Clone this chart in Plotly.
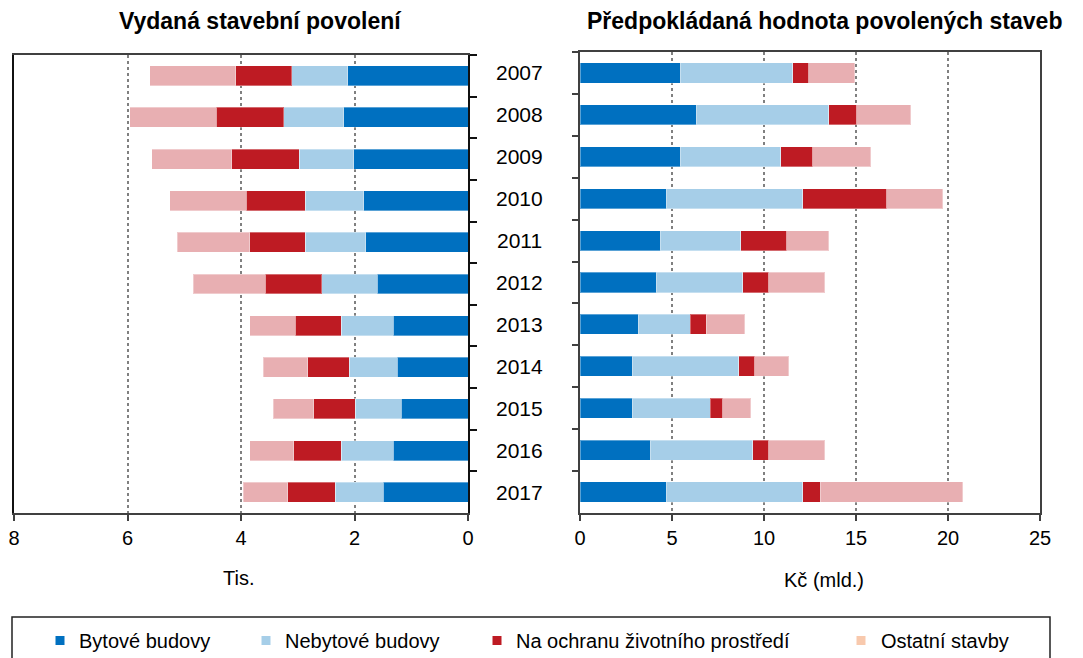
import plotly.graph_objects as go

years = ['2007', '2008', '2009', '2010', '2011', '2012', '2013', '2014', '2015', '2016', '2017']
series_names = ['Bytové budovy', 'Nebytové budovy', 'Na ochranu životního prostředí', 'Ostatní stavby']

# Vydaná stavební povolení (tis.)
byt_l = [2.12, 2.19, 2.01, 1.84, 1.80, 1.60, 1.32, 1.25, 1.18, 1.32, 1.49]
neb_l = [0.99, 1.06, 0.96, 1.03, 1.07, 0.98, 0.91, 0.84, 0.81, 0.91, 0.85]
och_l = [0.98, 1.19, 1.19, 1.04, 0.98, 0.99, 0.81, 0.73, 0.73, 0.84, 0.84]
ost_l = [1.52, 1.52, 1.41, 1.35, 1.27, 1.27, 0.81, 0.79, 0.71, 0.78, 0.78]

# Předpokládaná hodnota povolených staveb (mld. Kč)
byt_r = [5.45, 6.33, 5.45, 4.69, 4.36, 4.15, 3.16, 2.84, 2.84, 3.82, 4.69]
neb_r = [6.12, 7.20, 5.46, 7.42, 4.37, 4.69, 2.84, 5.78, 4.25, 5.56, 7.42]
och_r = [0.85, 1.51, 1.73, 4.55, 2.51, 1.42, 0.87, 0.87, 0.66, 0.88, 0.96]
ost_r = [2.51, 2.94, 3.16, 3.05, 2.27, 3.05, 2.08, 1.86, 1.52, 3.05, 7.73]

x_ticks_l = [0, 2, 4, 6, 8]
x_ticks_r = [0, 5, 10, 15, 20, 25]

bar_colors = ['#0070C0', '#A6CEE8', '#BE1B23', '#E8AFB2']
legend_colors = ['#0070C0', '#A6CEE8', '#BE1B23', '#F8C9AD']

W, H = 1083, 658
FONT = 'Liberation Sans, Arial, sans-serif'
OFF = 8  # page body margin offset

def px(x):
    return (x - OFF) / W

def py(y):
    return 1 - (y - OFF) / H

fig = go.Figure()
for name, vals, col in zip(series_names, [byt_l, neb_l, och_l, ost_l], bar_colors):
    fig.add_trace(go.Bar(y=years, x=vals, orientation='h', name=name,
                         marker=dict(color=col, line=dict(width=1, color='rgba(255,255,255,0.35)')),
                         width=0.48, xaxis='x', yaxis='y', showlegend=False))
for name, vals, col in zip(series_names, [byt_r, neb_r, och_r, ost_r], bar_colors):
    fig.add_trace(go.Bar(y=years, x=vals, orientation='h', name=name,
                         marker=dict(color=col, line=dict(width=1, color='rgba(255,255,255,0.35)')),
                         width=0.48, xaxis='x2', yaxis='y2', showlegend=False))

axis_font = dict(family=FONT, size=20, color='black')
common_x = dict(showgrid=True, gridcolor='#808080', griddash='dot', gridwidth=1.5, zeroline=False,
                showline=True, mirror=True, linecolor='#404040', linewidth=2, automargin=False,
                ticks='outside', ticklen=6, tickcolor='#404040', tickwidth=2, tickfont=axis_font)
common_y = dict(type='category', categoryorder='array', categoryarray=years, range=[10.5, -0.5],
                showgrid=False, zeroline=False, showticklabels=False, showline=True, mirror=True,
                linewidth=2, ticks='outside', tickson='boundaries', tickwidth=2, automargin=False)

L_TOP, R_TOP, BOT = 55, 52, 513

fig.update_layout(
    template='none',
    width=W, height=H, margin=dict(l=0, r=0, t=0, b=0, pad=0, autoexpand=False),
    paper_bgcolor='white', plot_bgcolor='white', barmode='stack', bargap=0.5,
    font=dict(family=FONT, color='black'),
    xaxis=dict(domain=[px(14), px(468)], range=[8, 0], tickvals=x_ticks_l, anchor='y', **common_x),
    xaxis2=dict(domain=[px(580), px(1040)], range=[0, 25], tickvals=x_ticks_r, anchor='y2', **common_x),
    yaxis=dict(domain=[py(BOT), py(L_TOP)], side='right', anchor='x', linecolor='#111111',
               tickcolor='#111111', ticklen=7, **common_y),
    yaxis2=dict(domain=[py(BOT), py(R_TOP)], side='left', anchor='x2', linecolor='#404040',
                tickcolor='#404040', ticklen=6, **common_y),
)

ann = []
# titles
ann.append(dict(text='<b>Vydaná stavební povolení</b>', x=px(260), y=py(21), xref='paper', yref='paper',
                xanchor='center', yanchor='middle', showarrow=False, font=dict(family=FONT, size=23, color='black')))
ann.append(dict(text='<b>Předpokládaná hodnota povolených staveb</b>', x=px(585), y=py(21), xref='paper', yref='paper',
                xanchor='left', yanchor='middle', showarrow=False, font=dict(family=FONT, size=23, color='black')))
# year labels between panels (centred on the category rows of the right panel)
row_h = (BOT - R_TOP) / len(years)
for i, yr in enumerate(years):
    ann.append(dict(text=yr, x=px(519), y=py(R_TOP + (i + 0.5) * row_h), xref='paper', yref='paper',
                    xanchor='center', yanchor='middle', showarrow=False,
                    font=dict(family=FONT, size=21, color='black')))
# axis titles
ann.append(dict(text='Tis.', x=px(238), y=py(578), xref='paper', yref='paper', xanchor='center', yanchor='middle',
                showarrow=False, font=dict(family=FONT, size=20, color='black')))
ann.append(dict(text='Kč (mld.)', x=px(824), y=py(580), xref='paper', yref='paper', xanchor='center', yanchor='middle',
                showarrow=False, font=dict(family=FONT, size=20, color='black')))

shapes = [dict(type='rect', xref='paper', yref='paper', x0=px(12), x1=px(1050), y0=py(700), y1=py(617),
               line=dict(color='#222222', width=1.5), fillcolor='rgba(0,0,0,0)', layer='above')]
sq_x = [60, 266, 497, 861]
tx_x = [77, 283, 514, 879]
for name, col, sx, tx in zip(series_names, legend_colors, sq_x, tx_x):
    shapes.append(dict(type='rect', xref='paper', yref='paper', x0=px(sx - 4.5), x1=px(sx + 4.5),
                       y0=py(645), y1=py(636), line=dict(width=0), fillcolor=col))
    ann.append(dict(text=name, x=px(tx), y=py(641), xref='paper', yref='paper', xanchor='left', yanchor='middle',
                    showarrow=False, font=dict(family=FONT, size=20, color='black')))

fig.update_layout(annotations=ann, shapes=shapes)
fig.write_html('out.html')
